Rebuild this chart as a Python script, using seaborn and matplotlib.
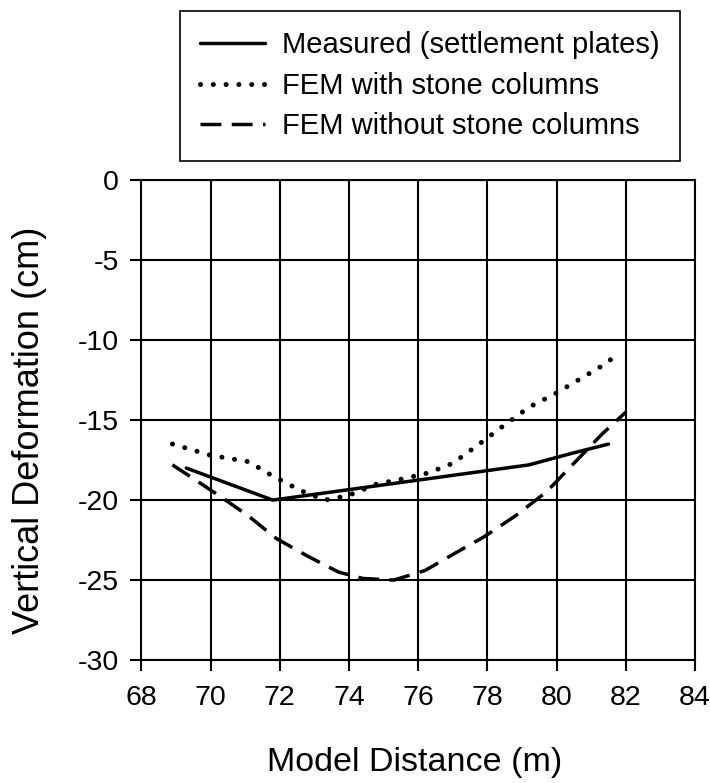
import matplotlib
matplotlib.use('Agg')
import matplotlib.pyplot as plt
import numpy as np
import pandas as pd
import seaborn as sns

meas_x = [69.3, 71.8, 79.2, 80.4, 81.5]
meas_y = [-18.0, -20.0, -17.8, -17.1, -16.5]

fem_sc_x = [68.9, 70.0, 71.1, 71.8, 72.6, 73.3, 74.0, 74.8, 75.5, 76.3,
            77.0, 77.7, 78.5, 79.2, 80.0, 80.7, 81.4, 81.8]
fem_sc_y = [-16.5, -17.2, -17.6, -18.5, -19.4, -20.0, -19.7, -19.0, -18.7, -18.3,
            -17.7, -16.6, -15.3, -14.2, -13.3, -12.4, -11.5, -10.8]

fem_nosc_x = [68.9, 69.5, 70.3, 71.1, 71.9, 72.8, 73.7, 74.4, 75.3, 76.2,
              77.0, 77.9, 78.8, 79.7, 80.5, 81.3, 82.0]
fem_nosc_y = [-17.8, -18.65, -19.8, -21.0, -22.4, -23.5, -24.5, -24.9, -25.0, -24.4,
              -23.4, -22.3, -21.0, -19.5, -17.7, -15.9, -14.5]

labels = ['Measured (settlement plates)', 'FEM with stone columns', 'FEM without stone columns']
xticks = list(range(68, 85, 2))
yticks = list(range(-30, 1, 5))

sns.set_style('white')
plt.rcParams['font.family'] = ['Liberation Sans', 'DejaVu Sans']
plt.rcParams['axes.unicode_minus'] = False
for k in ['text.color', 'axes.labelcolor', 'xtick.color', 'ytick.color']:
    plt.rcParams[k] = 'black'

fig = plt.figure(figsize=(7.1, 7.83), dpi=100)
ax = fig.add_axes([0.199, 0.157, 0.780, 0.613])

sns.lineplot(x=meas_x, y=meas_y, ax=ax, color='black', lw=2.5, label=labels[0])
sns.lineplot(x=fem_sc_x, y=fem_sc_y, ax=ax, color='black', lw=3.6,
             linestyle=(0, (0.01, 2.55)), dash_capstyle='round', label=labels[1])
sns.lineplot(x=fem_nosc_x, y=fem_nosc_y, ax=ax, color='black', lw=2.5,
             linestyle=(0, (6.0, 3.0)), label=labels[2])

ax.set_xlim(68, 84)
ax.set_ylim(-30, 0)
ax.set_xticks(xticks)
ax.set_yticks(yticks)
ax.grid(True, color='black', lw=1.5)
for s in ax.spines.values():
    s.set_color('black')
    s.set_linewidth(1.5)
ax.tick_params(axis='both', direction='out', length=8, width=1.5, color='black',
               labelsize=20.5, bottom=True, left=True)
ax.tick_params(axis='x', pad=10)
ax.tick_params(axis='y', pad=8)

ax.set_xlabel('Model Distance (m)', fontsize=24.5)
ax.set_ylabel('Vertical Deformation (cm)', fontsize=26)
ax.xaxis.set_label_coords(0.494, -0.181)
ax.yaxis.set_label_coords(-0.170, 0.479)

ax.legend_.remove()
h, l = ax.get_legend_handles_labels()
leg = fig.legend(h, l, loc='upper left', bbox_to_anchor=(0.2535, 0.986),
                 bbox_transform=fig.transFigure, fontsize=21, frameon=True,
                 fancybox=False, edgecolor='black', framealpha=1, handlelength=2.2,
                 labelspacing=0.43, borderpad=0.7, handletextpad=0.6, borderaxespad=0)
leg.get_frame().set_linewidth(1.2)

plt.savefig('out.png', dpi=100)
plt.close()
